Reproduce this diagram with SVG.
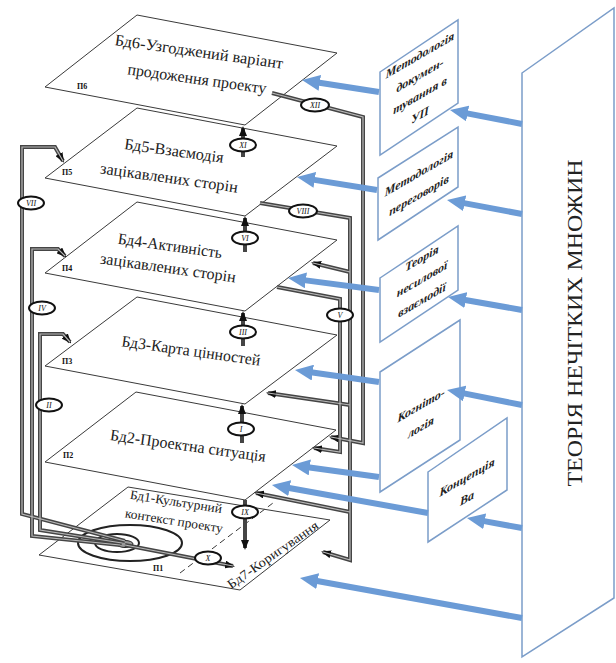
<svg xmlns="http://www.w3.org/2000/svg" xmlns:xlink="http://www.w3.org/1999/xlink" width="616" height="663" viewBox="0 0 616 663">
<style>
.pl{fill:none;stroke:#3a3a3a;stroke-width:1}
.bx{fill:#fff;stroke:#7b9dc9;stroke-width:1.5}
.ba{fill:none;stroke:#6b9bd6;stroke-width:6;marker-end:url(#bh)}
.co{fill:none;stroke:#454545;stroke-width:4;marker-end:url(#ah)}
.ci{fill:none;stroke:#b8b8b8;stroke-width:1.2;marker-end:none}
.t{font-family:"Liberation Serif","DejaVu Serif","Times New Roman",serif;fill:#222;text-anchor:middle}
.p{font-family:"Liberation Serif","DejaVu Serif",serif;font-weight:bold;font-size:8px;fill:#111}
.m{font-family:"Liberation Serif","DejaVu Serif",serif;font-weight:bold;font-style:italic;font-size:12px;fill:#222;text-anchor:middle}
.lb ellipse{fill:#fff;stroke:#111;stroke-width:2}
.lb text{font-family:"Liberation Serif","DejaVu Serif",serif;font-style:italic;font-size:8px;fill:#111;text-anchor:middle}
.sp{fill:none;stroke:#222;stroke-width:2}
</style>
<defs>
<marker id="ah" viewBox="0 0 10 8" markerWidth="10" markerHeight="8" refX="8" refY="4" orient="auto" markerUnits="userSpaceOnUse"><path d="M0,0 L10,4 L0,8 z" fill="#111"/></marker>
<marker id="bh" viewBox="0 0 18 16" markerWidth="18" markerHeight="16" refX="2" refY="8" orient="auto" markerUnits="userSpaceOnUse"><path d="M0,0 L18,8 L0,16 z" fill="#6b9bd6"/></marker>
</defs>
<rect width="616" height="663" fill="#fff"/>

<g id="fuzzy">
<polygon class="bx" points="522,73 614,8 614,598 522,657"/>
<text class="t" transform="rotate(-90 575 323)" x="575" y="330" font-size="21" textLength="327" lengthAdjust="spacingAndGlyphs">ТЕОРІЯ НЕЧІТКИХ МНОЖИН</text>
</g>

<g id="bd6">
<polygon class="pl" points="45,87 137,15 337,53 245,125"/>
<text class="t" font-size="16" transform="rotate(8 199 52)" x="199" y="57" textLength="170" lengthAdjust="spacingAndGlyphs">Бд6-Узгоджений варіант</text>
<text class="t" font-size="16" transform="rotate(8 197 79)" x="197" y="84" textLength="140" lengthAdjust="spacingAndGlyphs">продоження проекту</text>
<text class="p" x="77" y="89">П6</text>
</g>
<g id="bd5">
<polygon class="pl" points="45,178 137,108 337,146 245,216"/>
<text class="t" font-size="16" transform="rotate(8 174 151)" x="174" y="156" textLength="100" lengthAdjust="spacingAndGlyphs">Бд5-Взаємодія</text>
<text class="t" font-size="16" transform="rotate(8 169 178)" x="169" y="183" textLength="139" lengthAdjust="spacingAndGlyphs">зацікавлених сторін</text>
<text class="p" x="62" y="175">П5</text>
</g>
<g id="bd4">
<polygon class="pl" points="45,273 137,202 337,240 245,311"/>
<text class="t" font-size="16" transform="rotate(8 170 246)" x="170" y="251" textLength="105" lengthAdjust="spacingAndGlyphs">Бд4-Активність</text>
<text class="t" font-size="16" transform="rotate(8 168 268)" x="168" y="273" textLength="137" lengthAdjust="spacingAndGlyphs">зацікавлених сторін</text>
<text class="p" x="62" y="271">П4</text>
</g>
<g id="bd3">
<polygon class="pl" points="45,366 137,297 337,335 245,404"/>
<text class="t" font-size="16" transform="rotate(8 191 351)" x="191" y="356" textLength="140" lengthAdjust="spacingAndGlyphs">Бд3-Карта цінностей</text>
<text class="p" x="62" y="364">П3</text>
</g>
<g id="bd2">
<polygon class="pl" points="45,462 136,392 336,430 245,500"/>
<text class="t" font-size="16" transform="rotate(8 188 446)" x="188" y="451" textLength="157" lengthAdjust="spacingAndGlyphs">Бд2-Проектна ситуація</text>
<text class="p" x="63" y="458">П2</text>
</g>
<g id="bd1">
<polygon class="pl" points="39,555 128,487 330,520 240,590"/>
<line class="pl" x1="180" y1="573" x2="273" y2="503" stroke-dasharray="6,4"/>
<text class="t" font-size="13" transform="rotate(9 176 502)" x="176" y="506" textLength="93" lengthAdjust="spacingAndGlyphs">Бд1-Культурний</text>
<text class="t" font-size="13" transform="rotate(9 174 521)" x="174" y="525" textLength="99" lengthAdjust="spacingAndGlyphs">контекст проекту</text>
<text class="p" x="153" y="571">П1</text>
<ellipse class="sp" cx="130" cy="543" rx="52" ry="18"/>
<ellipse class="sp" cx="117" cy="543" rx="22" ry="9"/>
<ellipse cx="125" cy="544" rx="8" ry="3.5" fill="#999" stroke="#222" stroke-width="1"/>
</g>
<g id="bd7">
<text class="t" font-size="13" transform="rotate(-35 273 555)" x="273" y="559" textLength="108" lengthAdjust="spacingAndGlyphs">Бд7-Коригування</text>
</g>

<g id="m1">
<polygon class="bx" points="380,72 458,20 458,103 380,155"/>
<text class="m" transform="translate(420,86) skewY(-30)"><tspan x="0" y="-27">Методологія</tspan><tspan x="0" y="-7">докумен-</tspan><tspan x="0" y="13">тування в</tspan><tspan x="0" y="33">УП</tspan></text>
</g>
<g id="m2">
<polygon class="bx" points="378,178 458,127 458,187 378,240"/>
<text class="m" transform="translate(419,185) skewY(-30)"><tspan x="0" y="-8">Методологія</tspan><tspan x="0" y="14">переговорів</tspan></text>
</g>
<g id="m3">
<polygon class="bx" points="380,278 458,226 458,290 380,342"/>
<text class="m" transform="translate(422,279) skewY(-30)"><tspan x="0" y="-17">Теорія</tspan><tspan x="0" y="4">несилової</tspan><tspan x="0" y="25">взаємодії</tspan></text>
</g>
<g id="m4">
<polygon class="bx" points="380,372 460,320 460,440 380,492"/>
<text class="m" transform="translate(421,416) skewY(-30)"><tspan x="0" y="-7">Когніто-</tspan><tspan x="0" y="15">логія</tspan></text>
</g>
<g id="m5">
<polygon class="bx" points="428,472 507,418 507,490 428,542"/>
<text class="m" transform="translate(467,487) skewY(-30)"><tspan x="0" y="-6">Концепція</tspan><tspan x="0" y="15">Ва</tspan></text>
</g>

<g id="connectors">
<g class="co">
<path id="c1" d="M125,541 L22,514 V147 H55 L63,161"/>
<path id="c2" d="M120,545 L32,536 V249 H58 L65,256"/>
<path id="c3" d="M122,543 L40,530 V334 H63 L70,342"/>
<path id="c4" d="M125,545 L233,566"/>
<path id="c5" d="M272,93 L363,117 V443 L331,437"/>
<path id="c6" d="M260,203 L350,218 V560 L323,552"/>
<path id="c7" d="M277,287 L340,299 V452 L314,448"/>
<path id="c8" d="M350,272 L313,263"/>
<path id="c9" d="M350,405 L268,393"/>
<path id="c10" d="M350,512 L256,493"/>
<path id="c11" d="M242,443 V406"/>
<path id="c12" d="M243,346 V313"/>
<path id="c13" d="M245,252 V218"/>
<path id="c14" d="M243,157 V128"/>
<path id="c15" d="M245,500 V548"/>
</g>
<g class="ci">
<use href="#c1"/><use href="#c2"/><use href="#c3"/><use href="#c4"/><use href="#c5"/><use href="#c6"/><use href="#c7"/><use href="#c8"/><use href="#c9"/><use href="#c10"/>
</g>
<g class="lb">
<ellipse cx="315" cy="105" rx="14" ry="6.5"/><text x="315" y="108">XII</text>
<ellipse cx="243" cy="145" rx="13" ry="6.5"/><text x="243" y="148">XI</text>
<ellipse cx="303" cy="211" rx="14" ry="6.5"/><text x="303" y="214">VIII</text>
<ellipse cx="31" cy="203" rx="13" ry="6.5"/><text x="31" y="206">VII</text>
<ellipse cx="245" cy="238" rx="13" ry="6.5"/><text x="245" y="241">VI</text>
<ellipse cx="340" cy="315" rx="13" ry="6.5"/><text x="340" y="318">V</text>
<ellipse cx="42" cy="308" rx="13" ry="6.5"/><text x="42" y="311">IV</text>
<ellipse cx="243" cy="332" rx="13" ry="6.5"/><text x="243" y="335">III</text>
<ellipse cx="49" cy="405" rx="13" ry="6.5"/><text x="49" y="408">II</text>
<ellipse cx="241" cy="429" rx="13" ry="6.5"/><text x="241" y="432">I</text>
<ellipse cx="245" cy="512" rx="13" ry="6.5"/><text x="245" y="515">IX</text>
<ellipse cx="208" cy="558" rx="13" ry="6.5"/><text x="208" y="561">X</text>
</g>
<g id="blue">
<line class="ba" x1="522" y1="124" x2="465.7" y2="113.1"/>
<line class="ba" x1="522" y1="214" x2="462.7" y2="202.9"/>
<line class="ba" x1="522" y1="310" x2="463.8" y2="299.8"/>
<line class="ba" x1="522" y1="405" x2="462.7" y2="393.1"/>
<line class="ba" x1="522" y1="528" x2="482.7" y2="520.9"/>
<line class="ba" x1="522" y1="618" x2="315.7" y2="580.8"/>
<line class="ba" x1="379" y1="92" x2="317.8" y2="82.5"/>
<line class="ba" x1="377" y1="190" x2="312.8" y2="179.6"/>
<line class="ba" x1="379" y1="290" x2="303.9" y2="280.1"/>
<line class="ba" x1="379" y1="382" x2="310.8" y2="372.3"/>
<line class="ba" x1="379" y1="477" x2="307.8" y2="467.2"/>
<line class="ba" x1="428" y1="513" x2="287.7" y2="487.8"/>
</g>
</g>
</svg>
